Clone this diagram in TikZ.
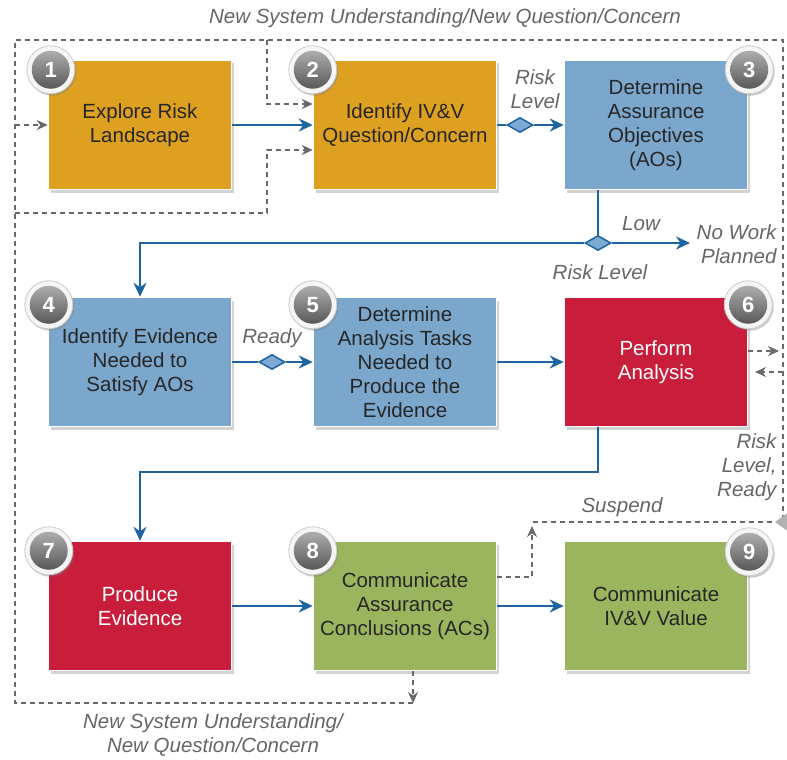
\documentclass[tikz,border=0pt]{standalone}
\usepackage{fontspec}
\setmainfont{Liberation Sans}
\usetikzlibrary{shapes.geometric,shadows,arrows.meta,calc}
\definecolor{gold}{RGB}{221,160,33}
\definecolor{steel}{RGB}{124,167,204}
\definecolor{crimson}{RGB}{200,30,60}
\definecolor{leaf}{RGB}{155,181,95}
\definecolor{flowblue}{RGB}{30,100,160}
\definecolor{diafill}{RGB}{125,170,210}
\definecolor{loopgray}{RGB}{105,105,105}

\begin{document}
\begin{tikzpicture}[x=1pt,y=-1pt,>={Stealth[length=14pt,width=13pt]},
    box/.style={rectangle,minimum width=183pt,minimum height=129pt,inner sep=2pt,draw=white,line width=1.5pt,
      align=center,text=black!85,font=\fontsize{20.5pt}{24pt}\selectfont,
      drop shadow={opacity=0.35,shadow xshift=2pt,shadow yshift=-3pt}},
    badge/.style={circle,minimum size=48pt,inner sep=0pt,fill=gray!8,draw=gray!40,line width=0.8pt,
      text=white,font=\fontsize{22pt}{22pt}\selectfont\bfseries,
      drop shadow={opacity=0.4,shadow xshift=1.5pt,shadow yshift=-2pt},
      path picture={\shade[top color=gray!55,bottom color=gray!60!black] (path picture bounding box.center) circle (19pt);}},
    flow/.style={draw=flowblue,line width=2.5pt},
    loop/.style={draw=loopgray,line width=2pt,dash pattern=on 5pt off 4pt,>={Stealth[length=11pt,width=10pt]}},
    gate/.style={diamond,minimum width=26pt,minimum height=15pt,inner sep=0pt,fill=diafill,draw=flowblue,line width=1.5pt},
    tag/.style={text=black!60,font=\fontsize{20.5pt}{24pt}\selectfont\itshape,align=center}]
  \useasboundingbox (0,0) rectangle (787,760);

  % boxes
  \node[box,fill=gold] (b1) at (140,125) {Explore Risk\\Landscape};
  \node[box,fill=gold] (b2) at (405,125) {Identify IV\&V\\Question/Concern};
  \node[box,fill=steel] (b3) at (656,125) {Determine\\Assurance\\Objectives\\(AOs)};
  \node[box,fill=steel] (b4) at (140,362) {Identify Evidence\\Needed to\\Satisfy AOs};
  \node[box,fill=steel] (b5) at (405,362) {Determine\\Analysis Tasks\\Needed to\\Produce the\\Evidence};
  \node[box,fill=crimson,text=white] (b6) at (656,362) {Perform\\Analysis};
  \node[box,fill=crimson,text=white] (b7) at (140,606) {Produce\\Evidence};
  \node[box,fill=leaf] (b8) at (405,606) {Communicate\\Assurance\\Conclusions (ACs)};
  \node[box,fill=leaf] (b9) at (656,606) {Communicate\\IV\&V Value};

  \node[badge] (n1) at ($(b1.north west)+(3,10)$) {1};
  \node[badge] (n2) at ($(b2.north west)+(0,10)$) {2};
  \node[badge] (n3) at ($(b3.north east)+(1,10)$) {3};
  \node[badge] (n4) at ($(b4.north west)+(1,8)$) {4};
  \node[badge] (n5) at ($(b5.north west)+(0,8)$) {5};
  \node[badge] (n6) at ($(b6.north east)+(0,8)$) {6};
  \node[badge] (n7) at ($(b7.north west)+(1,10)$) {7};
  \node[badge] (n8) at ($(b8.north west)+(0,10)$) {8};
  \node[badge] (n9) at ($(b9.north east)+(1,11)$) {9};

  % main flow
  \node[gate] (g1) at (520,125) {};
  \node[gate] (g2) at (598,243) {};
  \node[gate] (g3) at (272,362) {};
  \coordinate (nowork) at (690,243);
  \coordinate (t1) at (140,243);
  \coordinate (t2) at (598,472);
  \draw[flow,->] (b1) -- (b2);
  \draw[flow] (b2) -- (g1);
  \draw[flow,->] (g1) -- (b3);
  \draw[flow] (b3.south -| g2) -- (g2);
  \draw[flow,->] (g2) -- (nowork);
  \draw[flow,->] (g2) -- (t1) -- (b4);
  \draw[flow] (b4) -- (g3);
  \draw[flow,->] (g3) -- (b5);
  \draw[flow,->] (b5) -- (b6);
  \draw[flow,->] (b6.south -| t2) -- (t2) -| (b7);
  \draw[flow,->] (b7) -- (b8);
  \draw[flow,->] (b8) -- (b9);

  % feedback loops
  \coordinate (c1) at (15,40);
  \coordinate (c2) at (783,40);
  \coordinate (c3) at (783,522);
  \coordinate (c4) at (15,703);
  \coordinate (c5) at (413,703);
  \coordinate (e1) at (15,125);
  \coordinate (k1) at (267,40);
  \coordinate (k2) at (267,104);
  \coordinate (k3) at (15,213);
  \coordinate (k4) at (267,150);
  \coordinate (r1) at (779,351);
  \coordinate (r2) at (783,372);
  \coordinate (r3) at (755,372);
  \coordinate (s1) at (532,577);
  \coordinate (s2) at (532,526);
  \coordinate (s3) at (532,522);
  \draw[loop] (c5) -- (c4) -- (c1) -- (c2) -- (c3) -- (s3);
  \draw[loop,->] (b8.south -| c5) -- (c5);
  \draw[loop,->] (e1) -- (b1);
  \draw[loop,->] (k1) -- (k2) -- (k2 -| b2.west);
  \draw[loop,->] (k3) -| (k4) -- (k4 -| b2.west);
  \draw[loop,->] (b6.east |- r1) -- (r1);
  \draw[loop,->] (r2) -- (r3);
  \draw[loop,->] (b8.east |- s1) -- (s1) -- (s2);
  \node[diamond,fill=gray!60,minimum width=30pt,minimum height=22pt,inner sep=0pt] (g4) at (790,522) {};

  % labels
  \node[tag] (l1) at (445,18) {New System Understanding/New Question/Concern};
  \node[tag] (l2) at (535,89) {Risk\\Level};
  \node[tag] (l3) at (641,224) {Low};
  \node[tag,anchor=east,align=right] (l4) at (780,244) {No Work\\Planned};
  \node[tag] (l5) at (600,272) {Risk Level};
  \node[tag] (l6) at (272,338) {Ready};
  \node[tag,anchor=east,align=right] (l7) at (780,467) {Risk\\Level,\\Ready};
  \node[tag] (l8) at (622,507) {Suspend};
  \node[tag] (l9) at (213,735) {New System Understanding/\\New Question/Concern};
\end{tikzpicture}
\end{document}
